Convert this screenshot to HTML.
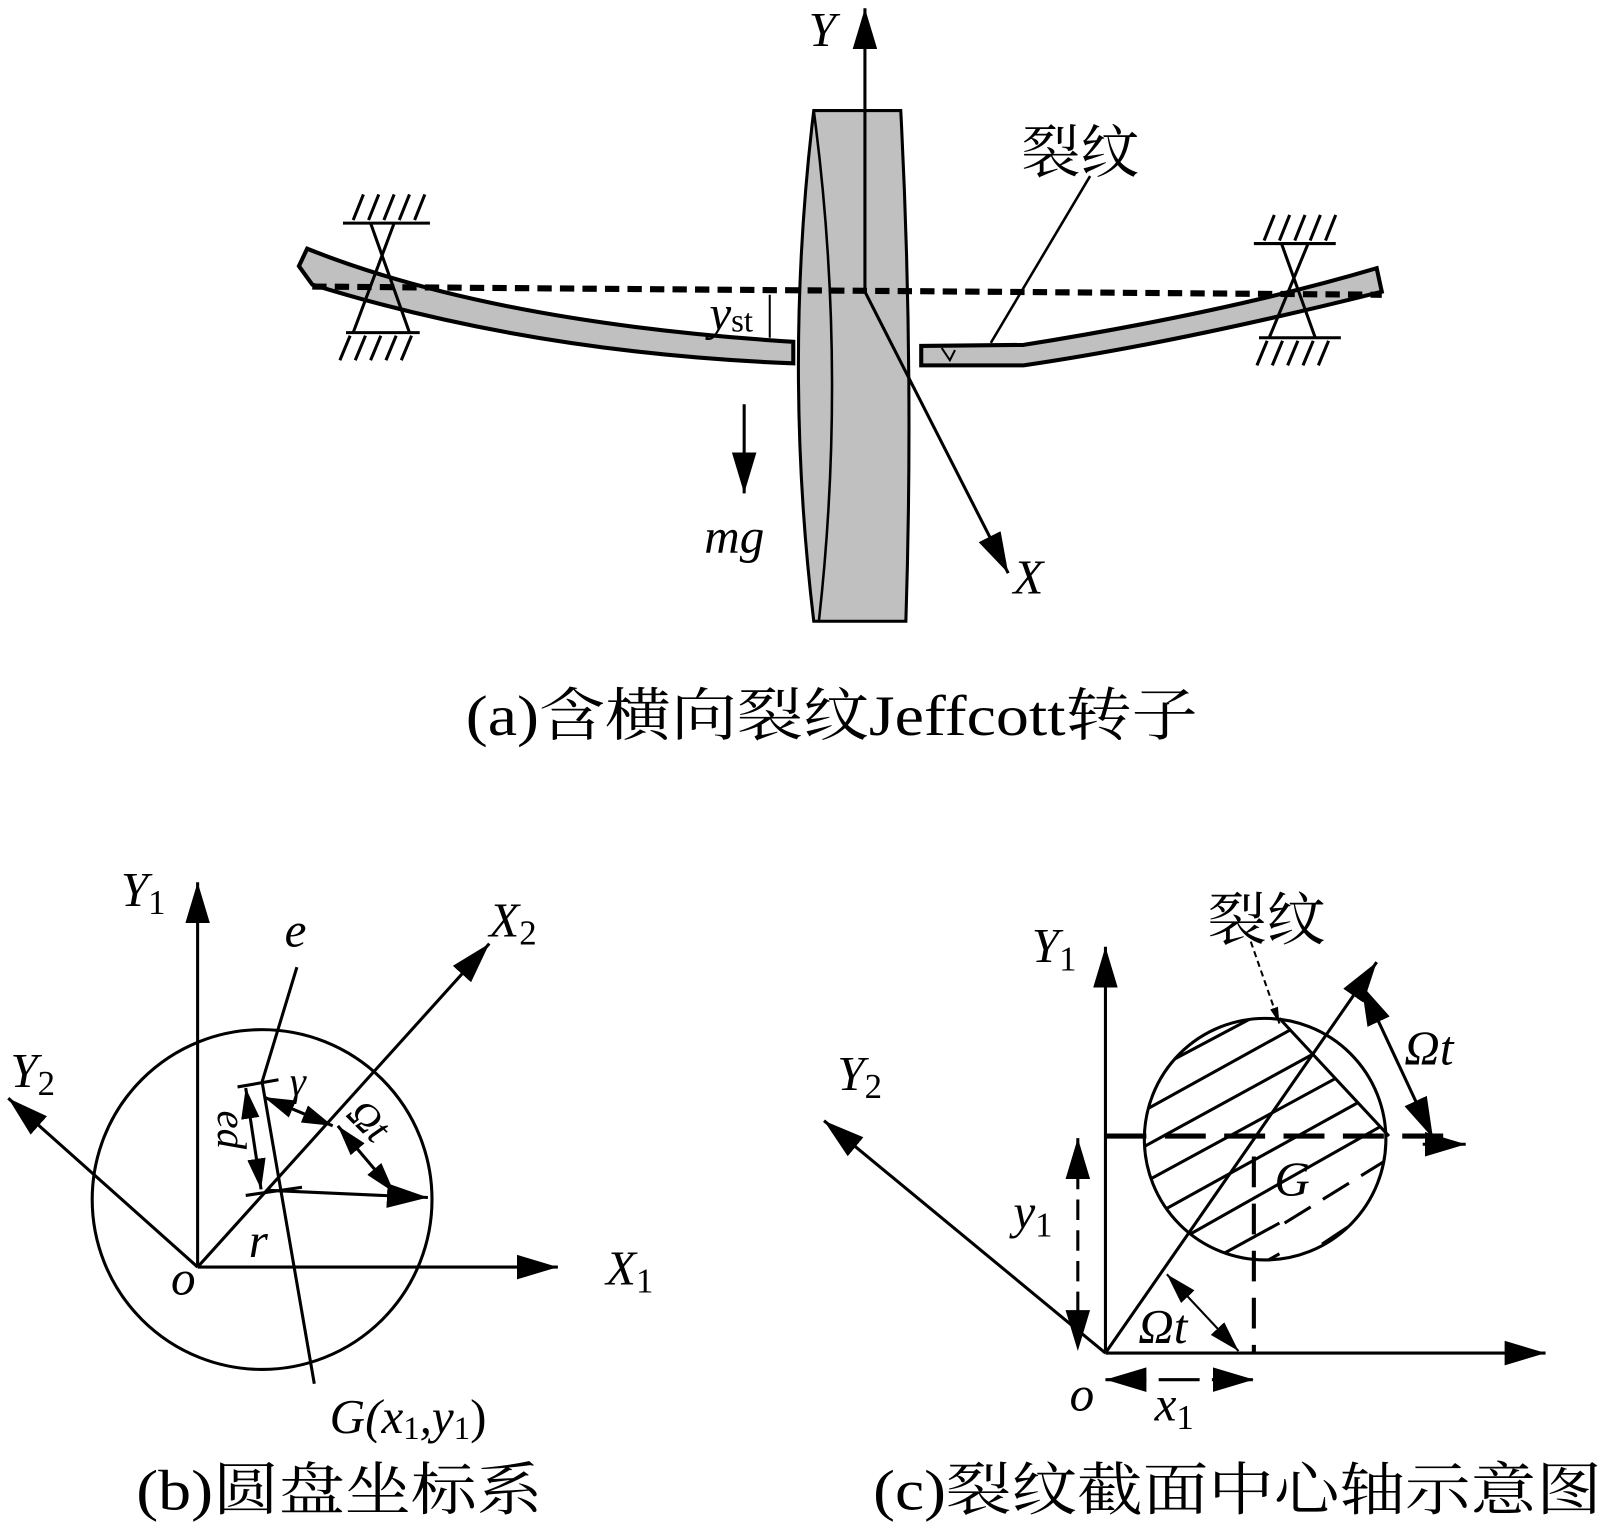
<!DOCTYPE html>
<html><head><meta charset="utf-8"><style>html,body{margin:0;padding:0;background:#fff}svg{display:block}marker path{fill:#000;stroke:none}</style></head><body>
<svg width="1605" height="1525" viewBox="0 0 1568 1490" xmlns="http://www.w3.org/2000/svg" font-family="'Liberation Serif','Noto Serif CJK SC',serif">
<defs>
<marker id="ah" viewBox="0 0 10 10" refX="10" refY="5" markerWidth="40" markerHeight="24" orient="auto-start-reverse" markerUnits="userSpaceOnUse" preserveAspectRatio="none"><path d="M0,0 L10,5 L0,10 Z"/></marker>
<marker id="as" viewBox="0 0 10 10" refX="10" refY="5" markerWidth="30" markerHeight="18" orient="auto-start-reverse" markerUnits="userSpaceOnUse" preserveAspectRatio="none"><path d="M0,0 L10,5 L0,10 Z"/></marker>
<marker id="at" viewBox="0 0 10 10" refX="10" refY="5" markerWidth="16" markerHeight="8" orient="auto-start-reverse" markerUnits="userSpaceOnUse" preserveAspectRatio="none"><path d="M0,0 L10,5 L0,10 Z"/></marker>
<clipPath id="cc"><circle cx="1236" cy="1113" r="118"/></clipPath>
</defs>
<g stroke="#000" stroke-width="3" fill="none">
<!-- (a) shaft -->
<path d="M300,243 Q480,315 775,334 L775,355 Q520,345 305,278 L292,260 Z" fill="#c0c0c0" stroke-width="4"/>
<path d="M900,338 L1000,337 Q1200,305 1345,262 L1350,285 Q1150,335 1000,357 L900,357 Z" fill="#c0c0c0" stroke-width="4"/>
<path d="M920,340 L928,352 L933,342" stroke-width="2"/>
<!-- disk -->
<path d="M795,108 L880,108 Q893,357 885,607 L795,607 Q765,357 795,108 Z" fill="#c0c0c0" stroke-width="3"/>
<path d="M795,108 Q828,357 800,607" stroke-width="2.5"/>
<!-- dashed line -->
<line x1="305" y1="280" x2="1350" y2="288" stroke-width="6" stroke-dasharray="14,8"/>
<!-- supports -->
<g stroke-width="3">
<line x1="335" y1="218" x2="420" y2="218"/><line x1="338" y1="325" x2="410" y2="325"/>
<line x1="362" y1="218" x2="400" y2="325"/><line x1="385" y1="218" x2="345" y2="325"/>
<path d="M345,215 L355,190 M360,215 L370,190 M375,215 L385,190 M390,215 L400,190 M405,215 L415,190"/>
<path d="M332,352 L342,328 M347,352 L357,328 M362,352 L372,328 M377,352 L387,328 M392,352 L402,328"/>
<line x1="1225" y1="238" x2="1305" y2="238"/><line x1="1230" y1="330" x2="1310" y2="330"/>
<line x1="1252" y1="238" x2="1285" y2="330"/><line x1="1278" y1="238" x2="1240" y2="330"/>
<path d="M1235,235 L1245,210 M1250,235 L1260,210 M1265,235 L1275,210 M1280,235 L1290,210 M1295,235 L1305,210"/>
<path d="M1228,357 L1238,333 M1243,357 L1253,333 M1258,357 L1268,333 M1273,357 L1283,333 M1288,357 L1298,333"/>
</g>
<!-- axes a -->
<line x1="845" y1="285" x2="845" y2="8" marker-end="url(#ah)"/>
<line x1="845" y1="285" x2="985" y2="560" marker-end="url(#ah)"/>
<line x1="727" y1="395" x2="727" y2="482" marker-end="url(#ah)"/>
<line x1="752" y1="288" x2="752" y2="330" stroke-width="2"/>
<line x1="1065" y1="172" x2="968" y2="335" stroke-width="2.5"/>
</g>
<g font-style="italic" font-size="48">
<text x="790" y="45">Y</text>
<text x="990" y="580">X</text>
<text x="688" y="540">mg</text>
<text x="693" y="322">y<tspan font-size="32" font-style="normal" dy="2">st</tspan></text>
</g>
<text x="998" y="168" font-size="56" textLength="115" lengthAdjust="spacingAndGlyphs">裂纹</text>
<text x="455" y="718" font-size="56" textLength="715" lengthAdjust="spacingAndGlyphs">(a)含横向裂纹Jeffcott转子</text>

<!-- (b) -->
<g stroke="#000" stroke-width="3" fill="none">
<ellipse cx="256" cy="1172" rx="166" ry="166"/>
<line x1="193" y1="1238" x2="193" y2="862" marker-end="url(#ah)"/>
<line x1="193" y1="1238" x2="545" y2="1238" marker-end="url(#ah)"/>
<line x1="193" y1="1238" x2="478" y2="922" marker-end="url(#ah)"/>
<line x1="193" y1="1238" x2="8" y2="1073" marker-end="url(#ah)"/>
<path d="M290,945 L256,1057 L307,1352"/>
<line x1="232" y1="1062" x2="272" y2="1055"/>
<line x1="240" y1="1168" x2="295" y2="1160"/>
<line x1="262" y1="1163" x2="418" y2="1170" marker-end="url(#ah)"/>
<line x1="240" y1="1063" x2="255" y2="1162" marker-start="url(#as)" marker-end="url(#as)"/>
<line x1="258" y1="1072" x2="325" y2="1100" marker-start="url(#as)" marker-end="url(#as)"/>
<line x1="330" y1="1100" x2="385" y2="1165" marker-start="url(#as)" marker-end="url(#as)"/>
</g>
<g font-style="italic" font-size="48">
<text x="118" y="885">Y<tspan font-size="34" font-style="normal" dy="8">1</tspan></text>
<text x="478" y="915">X<tspan font-size="34" font-style="normal" dy="8">2</tspan></text>
<text x="10" y="1062">Y<tspan font-size="34" font-style="normal" dy="8">2</tspan></text>
<text x="592" y="1255">X<tspan font-size="34" font-style="normal" dy="8">1</tspan></text>
<text x="278" y="925">e</text>
<text x="167" y="1265">o</text>
<text x="243" y="1228">r</text>
<text x="283" y="1070" font-size="40">γ</text>
<text x="0" y="0" font-size="40" transform="translate(213,1085) rotate(90)">ed</text>
<text x="0" y="0" font-size="40" transform="translate(337,1090) rotate(45)">Ωt</text>
<text x="322" y="1400">G(x<tspan font-size="32" font-style="normal" dy="6">1</tspan><tspan dy="-6">,y</tspan><tspan font-size="32" font-style="normal" dy="6">1</tspan><tspan dy="-6" font-style="normal">)</tspan></text>
</g>
<text x="133" y="1475" font-size="56" textLength="397" lengthAdjust="spacingAndGlyphs">(b)圆盘坐标系</text>

<!-- (c) -->
<g stroke="#000" stroke-width="3" fill="none">
<g clip-path="url(#cc)" stroke-width="3">
<path d="M1100,1060 L1260,975 M1100,1095 L1290,990 M1100,1130 L1310,1015 M1100,1165 L1330,1040 M1105,1200 L1340,1070 M1120,1230 L1350,1100 M1140,1255 L1250,1195 M1170,1270 L1250,1225"/>
<path d="M1255,1195 L1360,1130 M1255,1240 L1360,1170 M1255,1275 L1360,1210" stroke-dasharray="30,14"/>
<path d="M1250,995 L1357,1110 L1400,960 L1250,960 Z" fill="#fff" stroke="none"/>
</g>
<circle cx="1236" cy="1113" r="118"/>
<line x1="1250" y1="995" x2="1357" y2="1110"/>
<line x1="1080" y1="1322" x2="1080" y2="925" marker-end="url(#ah)"/>
<line x1="1080" y1="1322" x2="1510" y2="1322" marker-end="url(#ah)"/>
<line x1="1080" y1="1322" x2="805" y2="1095" marker-end="url(#ah)"/>
<line x1="1080" y1="1322" x2="1345" y2="940" marker-end="url(#ah)"/>
<line x1="1080" y1="1110" x2="1420" y2="1110" stroke-width="5" stroke-dasharray="40,18"/>
<line x1="1225" y1="1130" x2="1225" y2="1322" stroke-width="4" stroke-dasharray="30,16"/>
<line x1="1330" y1="962" x2="1400" y2="1112" marker-start="url(#ah)" marker-end="url(#ah)"/>
<line x1="1390" y1="1118" x2="1432" y2="1118" marker-end="url(#ah)"/>
<line x1="1053" y1="1112" x2="1053" y2="1320" stroke-dasharray="20,10" marker-start="url(#ah)" marker-end="url(#ah)"/>
<line x1="1140" y1="1245" x2="1210" y2="1320" stroke-width="2" marker-start="url(#as)" marker-end="url(#as)"/>
<line x1="1080" y1="1348" x2="1225" y2="1348" stroke-dasharray="40,12" marker-start="url(#ah)" marker-end="url(#ah)"/>
<line x1="1222" y1="920" x2="1250" y2="1000" stroke-width="2" stroke-dasharray="6,4" marker-end="url(#at)"/>
</g>
<g font-style="italic" font-size="48">
<text x="1008" y="940">Y<tspan font-size="34" font-style="normal" dy="8">1</tspan></text>
<text x="818" y="1065">Y<tspan font-size="34" font-style="normal" dy="8">2</tspan></text>
<text x="1245" y="1168">G</text>
<text x="1372" y="1040">Ωt</text>
<text x="1112" y="1312">Ωt</text>
<text x="990" y="1200">y<tspan font-size="34" font-style="normal" dy="8">1</tspan></text>
<text x="1128" y="1388">x<tspan font-size="34" font-style="normal" dy="8">1</tspan></text>
<text x="1045" y="1378">o</text>
</g>
<text x="1180" y="918" font-size="56" textLength="115" lengthAdjust="spacingAndGlyphs">裂纹</text>
<text x="853" y="1475" font-size="56" textLength="712" lengthAdjust="spacingAndGlyphs">(c)裂纹截面中心轴示意图</text>
</svg>
</body></html>
